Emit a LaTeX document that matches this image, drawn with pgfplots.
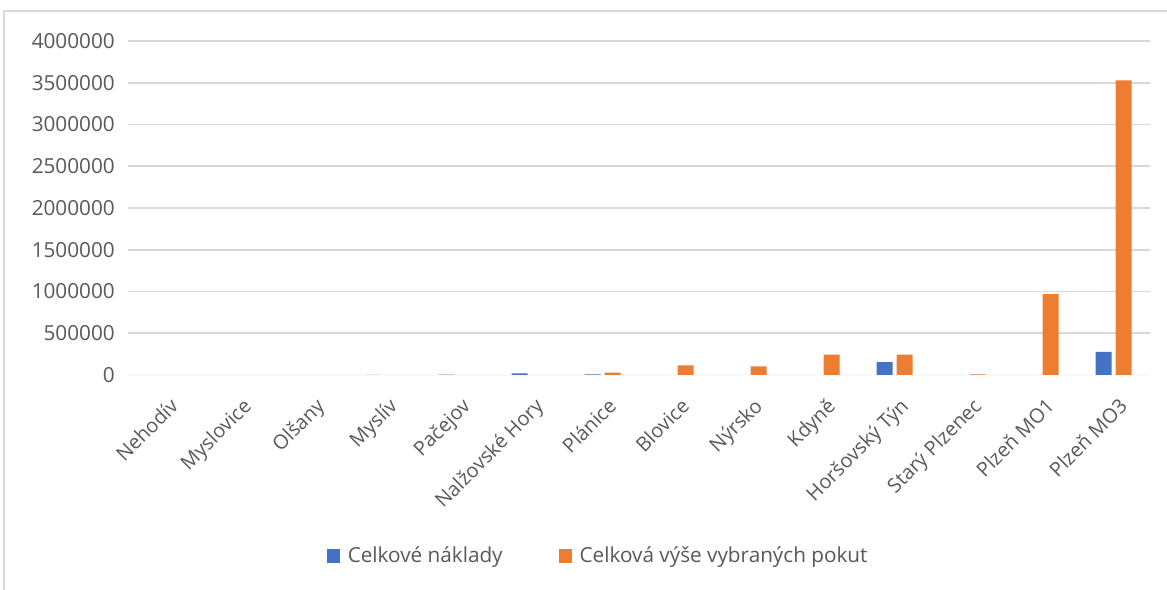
\documentclass[border=0pt]{standalone}
\usepackage{pgfplots}
\pgfplotsset{compat=1.18}
\usepackage{fontspec}
\setmainfont{Open Sans}
\definecolor{cblue}{HTML}{4472C4}
\definecolor{corange}{HTML}{ED7D31}
\definecolor{txt}{HTML}{595959}
\definecolor{gridc}{HTML}{D9D9D9}
\begin{document}
\fontsize{10.4}{12.5}\selectfont
\begin{tikzpicture}
\useasboundingbox (0,0) rectangle (583.5bp,295bp);
\draw[gridc, line width=0.8bp] (2bp,-1bp) -- (2bp,289.5bp) -- (590bp,289.5bp);
\begin{axis}[
  at={(64bp,107.5bp)}, anchor=south west,
  scale only axis, width=511bp, height=167bp,
  ybar, bar width=8bp, ybar=2bp,
  xmin=-0.5, xmax=13.5, ymin=0, ymax=4000000,
  xtick={0,...,13},
  xticklabels={Nehodív,Myslovice,Olšany,Myslív,Pačejov,Nalžovské Hory,Plánice,Blovice,Nýrsko,Kdyně,Horšovský Týn,Starý Plzenec,Plzeň MO1,Plzeň MO3},
  xticklabel style={rotate=45, anchor=north east, inner sep=0pt, xshift=-6bp, yshift=-9bp, text=txt, font=\fontsize{10}{12}\selectfont},
  ytick={0,500000,...,4000000},
  scaled y ticks=false,
  yticklabel style={text=txt, font=\fontsize{10.4}{12.5}\selectfont, xshift=-3bp},
  /pgf/number format/.cd, fixed, 1000 sep={}, assume math mode=true,
  /pgfplots/.cd,
  ymajorgrids, grid style={gridc, line width=0.8bp},
  axis line style={draw=none},
  major tick length=0pt,
  extra y ticks={0}, extra y tick labels={},
  extra y tick style={grid style={color=gridc!100!black!15, line width=1bp}},
  legend style={at={(0.461,-0.542)}, anchor=center, draw=none, legend columns=2,
    font=\fontsize{10.4}{12.5}\selectfont, text=txt,
    /tikz/every even column/.append style={column sep=26bp}},
  legend image code/.code={\fill[#1] (0bp,-3.3bp) rectangle (6.6bp,3.3bp); \path (8.5bp,0);},
]
\addplot[fill=cblue, draw=none] coordinates {(0,0) (1,0) (2,0) (3,2000) (4,5000) (5,18000) (6,6000) (7,0) (8,0) (9,0) (10,155000) (11,0) (12,0) (13,278000)};
\addplot[fill=corange, draw=none] coordinates {(0,0) (1,0) (2,0) (3,0) (4,0) (5,0) (6,28000) (7,115000) (8,104000) (9,245000) (10,245000) (11,8000) (12,970000) (13,3530000)};
\legend{Celkové náklady, Celková výše vybraných pokut}
\end{axis}
\end{tikzpicture}
\end{document}
